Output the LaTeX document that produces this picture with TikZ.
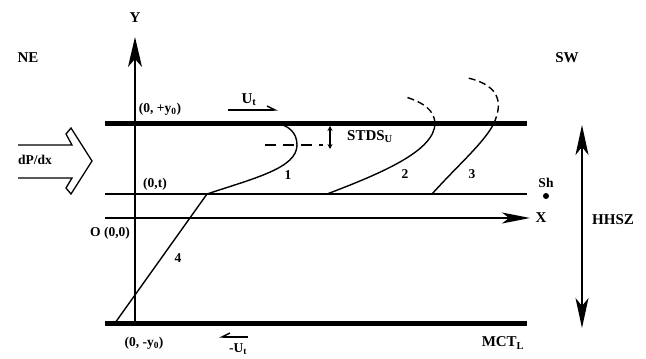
\documentclass[tikz,border=0pt]{standalone}
\usepackage{fontspec}
\setmainfont{Liberation Serif}
\usetikzlibrary{arrows.meta}
\begin{document}
\begin{tikzpicture}[x=1pt,y=-1pt,
  lbl/.style={font=\fontsize{15}{17}\selectfont\bfseries, inner sep=0pt},
  sml/.style={font=\fontsize{13.5}{15}\selectfont\bfseries, inner sep=0pt},
  thick line/.style={line width=5pt},
  thin line/.style={line width=1.4pt},
  dashcurve/.style={line width=1.4pt, dash pattern=on 7pt off 4pt},
  ]
\useasboundingbox (0,0) rectangle (646,359);
% coordinates
\coordinate (TL) at (105,123); \coordinate (TR) at (527,123);
\coordinate (BL) at (105,323); \coordinate (BR) at (527,323);
\coordinate (tL) at (105,194); \coordinate (tR) at (527,194);
\coordinate (XL) at (105,218); \coordinate (XR) at (530,218);
\coordinate (YB) at (135,323); \coordinate (YT) at (135,37);
% plates
\draw[thick line] (TL) -- (TR);
\draw[thick line] (BL) -- (BR);
\draw[thin line] (tL) -- (tR);
\draw[thin line, -{Stealth[length=28pt,width=11pt,inset=7pt]}] (XL) -- (XR);
\draw[thin line, -{Stealth[length=30pt,width=14pt,inset=8pt]}] (YB) -- (YT);
% profile curves
\coordinate (p4a) at (115,323); \coordinate (p4b) at (207,194);
\draw[thin line] (p4a) -- (p4b);
\draw[thin line] (p4b) .. controls (255,178) and (297,168) .. (297,145)
   .. controls (297,132) and (288,125) .. (275,123);
\coordinate (p2a) at (327,194); \coordinate (p2b) at (435,123);
\draw[thin line] (p2a) .. controls (385,172) and (435,150) .. (p2b);
\draw[dashcurve] (p2b) .. controls (434,110) and (424,103) .. (406,97);
\coordinate (p3a) at (432,194); \coordinate (p3b) at (494,123);
\draw[thin line] (p3a) .. controls (458,165) and (485,142) .. (p3b);
\draw[dashcurve] (p3b) .. controls (502,105) and (502,86) .. (468,78);
% dashed mid line and STDS arrow
\coordinate (dA) at (265,145); \coordinate (dB) at (323,145);
\draw[line width=2pt, dash pattern=on 11pt off 7pt] (dA) -- (dB);
\coordinate (sA) at (330,126); \coordinate (sB) at (330,149);
\draw[line width=1.2pt, {Stealth[length=5pt,width=5pt]}-{Stealth[length=5pt,width=5pt]}] (sA) -- (sB);
% U_t arrows
\coordinate (uA) at (228,110); \coordinate (uB) at (278,110);
\draw[line width=1.4pt, -{Straight Barb[left,length=8pt,width=8pt]}] (uA) -- (uB);
\coordinate (vA) at (248,337); \coordinate (vB) at (219,337);
\draw[line width=1.4pt, -{Straight Barb[right,length=8pt,width=8pt]}] (vA) -- (vB);
% HHSZ arrow
\coordinate (hA) at (582,125); \coordinate (hB) at (582,328);
\draw[thin line, {Stealth[length=30pt,width=13pt,inset=8pt]}-{Stealth[length=30pt,width=13pt,inset=8pt]}] (hA) -- (hB);
% dP/dx hollow arrow
\draw[line width=1.3pt, line join=miter]
  (18,145) -- (72,145) -- (66,134) -- (71,128) -- (92,161) -- (71,194) -- (66,188) -- (72,178) -- (18,178);
% Sh point
\fill (546,196) circle (3pt);
% labels
\node[lbl] (ly) at (135,18) {Y};
\node[lbl] (lne) at (28,58) {NE};
\node[lbl] (lsw) at (567,58) {SW};
\node[sml] (ly0) at (160,109) {(0, +y\textsubscript{0})};
\node[lbl] (lut) at (249,100) {U\textsubscript{t}};
\node[sml] (ldp) at (35,160) {dP/dx};
\node[sml] (l0t) at (155,184) {(0,t)};
\node[sml] (l00) at (110,233) {O (0,0)};
\node[sml] (l4) at (178,258) {4};
\node[sml] (l1) at (288,175) {1};
\node[sml] (l2) at (405,174) {2};
\node[sml] (l3) at (472,174) {3};
\node[sml] (lsh) at (546,183) {Sh};
\node[lbl] (lx) at (541,218) {X};
\node[lbl] (lhh) at (613,220) {HHSZ};
\node[lbl] (lst) at (370,137) {STDS\textsubscript{U}};
\node[sml] (lm0) at (144,343) {(0, -y\textsubscript{0})};
\node[sml] (lmu) at (238,349) {-U\textsubscript{t}};
\node[lbl] (lmct) at (503,343) {MCT\textsubscript{L}};
\end{tikzpicture}
\end{document}
